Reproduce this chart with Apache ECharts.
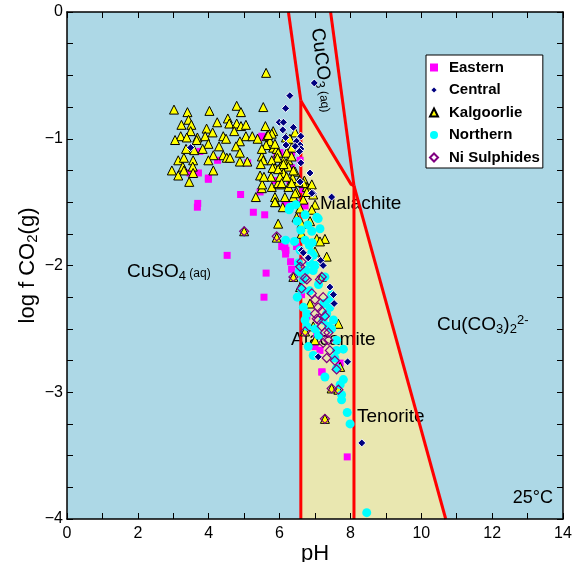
<!DOCTYPE html>
<html><head><meta charset="utf-8">
<script src="https://cdn.jsdelivr.net/npm/echarts@6/dist/echarts.min.js"></script>
<style>html,body{margin:0;padding:0;background:#fff}#c{width:579px;height:562px}</style>
</head><body><div id="c"></div>
<script>
// ---- axis ticks ----
const xTicks = [0, 2, 4, 6, 8, 10, 12, 14];
const yTicks = [0, -1, -2, -3, -4];

// ---- stability field boundaries (pH, log fCO2) ----
const cuco3Left = [[6.25, 0], [6.6, -0.7]];
const atacamiteBoundary = [[6.6, -0.7], [6.6, -4]];
const cuco3Right = [[7.44, 0], [8.1, -1.37]];
const malachiteTop = [[6.6, -0.7], [8.02, -1.36], [8.1, -1.37]];
const tenoriteBoundary = [[8.1, -1.37], [8.1, -4]];
const carbonateBoundary = [[8.1, -1.37], [10.69, -4]];
const yellowField = [[6.6, -0.7], [8.1, -1.37], [10.69, -4], [6.6, -4]];

// ---- samples ----
const eastern = [[4.25,-1.17],[3.99,-1.32],[3.69,-1.51],[3.68,-1.54],[4.90,-1.44],[5.45,-1.42],[5.26,-1.58],[5.58,-1.60],[4.52,-1.92],[5.62,-2.06],[5.56,-2.25],[6.06,-1.85],[6.18,-1.88],[6.17,-1.91],[6.31,-1.97],[6.34,-2.03],[5.10,-1.19],[3.47,-1.27],[3.71,-1.27],[6.20,-1.51],[3.75,-1.10],[5.45,-0.99],[7.20,-2.84],[7.91,-3.51],[6.62,-2.23],[6.48,-1.85],[6.15,-1.86],[6.77,-2.40],[7.00,-2.64],[7.14,-2.67],[7.19,-2.84],[7.71,-2.77],[7.05,-2.55],[5.50,-0.98],[6.01,-1.11],[6.34,-1.23],[6.15,-1.52],[6.48,-1.51],[6.72,-1.53],[6.58,-1.17],[5.92,-1.13],[6.34,-1.11],[6.67,-1.40],[5.87,-1.33],[6.29,-1.33],[3.99,-1.31]];
const central = [[6.98,-0.56],[6.29,-0.66],[6.17,-0.76],[5.99,-0.87],[6.11,-0.87],[6.09,-0.93],[6.39,-0.91],[6.60,-0.98],[6.48,-1.02],[6.17,-0.99],[6.18,-1.05],[6.58,-1.05],[6.60,-1.08],[6.60,-1.19],[6.86,-1.27],[6.58,-1.34],[7.47,-1.46],[6.95,-1.43],[6.91,-1.43],[6.44,-1.06],[6.56,-1.10],[3.49,-1.07],[6.62,-1.88],[7.16,-1.96],[7.23,-2.00],[6.81,-1.94],[6.67,-1.90],[7.42,-2.17],[7.52,-2.23],[7.54,-2.30],[7.09,-2.72],[7.92,-2.76],[8.32,-3.40]];
const kalgoorlie = [[5.62,-0.48],[3.02,-0.77],[3.40,-0.79],[4.02,-0.78],[4.79,-0.74],[4.91,-0.79],[5.54,-0.75],[3.43,-0.85],[3.23,-0.89],[3.51,-0.89],[4.24,-0.87],[4.54,-0.84],[4.58,-0.88],[4.79,-0.88],[4.91,-0.90],[5.05,-0.89],[5.60,-0.90],[3.94,-0.92],[4.72,-0.94],[3.49,-0.94],[4.11,-0.95],[3.21,-0.98],[3.38,-0.99],[3.05,-1.01],[3.68,-0.99],[3.90,-0.98],[4.41,-0.98],[4.49,-1.00],[5.05,-0.98],[5.23,-0.98],[5.38,-1.00],[4.88,-1.02],[5.64,-0.98],[3.66,-1.01],[3.99,-1.04],[4.29,-1.06],[4.77,-1.06],[3.36,-1.08],[3.59,-1.09],[3.83,-1.08],[4.88,-1.11],[4.13,-1.13],[4.41,-1.13],[4.51,-1.15],[4.60,-1.15],[3.14,-1.17],[3.30,-1.15],[3.56,-1.17],[3.99,-1.17],[4.88,-1.18],[5.09,-1.18],[5.50,-1.14],[5.54,-1.17],[5.47,-1.20],[3.27,-1.22],[3.55,-1.22],[2.96,-1.25],[3.30,-1.25],[4.13,-1.25],[3.14,-1.29],[3.56,-1.27],[5.45,-1.29],[5.73,-1.02],[5.82,-1.07],[5.92,-1.08],[5.96,-1.11],[6.18,-0.99],[6.44,-0.95],[6.34,-1.07],[6.25,-1.17],[6.11,-1.17],[5.94,-1.15],[5.78,-1.17],[6.03,-1.22],[5.87,-1.23],[6.25,-1.22],[6.44,-1.26],[6.11,-1.27],[5.76,-1.30],[6.37,-1.31],[6.56,-1.33],[6.70,-1.33],[6.77,-1.38],[6.91,-1.36],[6.95,-1.44],[6.48,-1.42],[6.25,-1.38],[6.01,-1.36],[5.78,-1.38],[5.50,-1.39],[5.33,-1.46],[5.87,-1.46],[6.15,-1.46],[6.39,-1.46],[5.82,-0.94],[3.45,-1.34],[5.51,-1.36],[5.89,-1.50],[6.09,-1.54],[5.96,-1.67],[5.00,-1.73],[5.92,-1.78],[6.39,-2.09],[5.87,-1.50],[5.96,-1.35],[6.67,-1.35],[6.44,-1.43],[6.67,-1.48],[7.00,-1.52],[6.48,-1.62],[6.62,-1.67],[6.86,-1.65],[6.62,-1.75],[7.05,-1.79],[7.28,-1.79],[7.14,-1.81],[7.00,-1.89],[7.14,-1.96],[7.33,-1.93],[6.58,-2.17],[7.19,-2.09],[6.86,-2.30],[7.66,-2.46],[6.95,-2.48],[7.71,-2.80],[7.47,-2.97],[7.66,-2.98],[7.28,-3.21],[6.72,-2.52],[7.00,-2.59],[5.78,-0.96],[5.68,-0.97],[5.62,-1.05],[5.50,-1.08],[5.87,-1.04],[6.29,-1.00],[6.20,-1.11],[6.34,-1.14],[5.80,-1.23],[5.96,-1.24],[6.11,-1.20],[6.39,-1.25],[6.01,-1.30],[6.20,-1.30],[6.53,-1.34],[6.06,-1.35],[6.34,-1.35],[6.77,-1.42],[6.58,-1.55],[6.91,-1.56],[5.56,-1.30]];
const northern = [[6.29,-1.54],[6.46,-1.52],[6.17,-1.80],[6.42,-1.81],[6.53,-1.98],[6.27,-1.56],[6.72,-1.60],[7.05,-1.62],[7.09,-1.63],[6.91,-1.73],[7.14,-1.71],[6.84,-1.84],[6.95,-1.92],[6.86,-1.98],[6.75,-2.04],[6.95,-2.04],[7.28,-2.09],[7.47,-2.23],[7.42,-2.27],[6.67,-2.33],[6.77,-2.38],[6.72,-2.43],[7.33,-2.38],[7.23,-2.43],[7.38,-2.48],[6.77,-2.48],[6.62,-2.19],[6.67,-2.11],[7.42,-2.33],[7.52,-2.43],[7.47,-2.50],[7.61,-2.67],[7.80,-2.66],[7.56,-2.73],[7.61,-2.81],[7.28,-2.88],[7.80,-2.90],[7.71,-2.94],[7.75,-3.02],[7.75,-3.06],[7.91,-3.16],[7.99,-3.25],[6.95,-2.71],[6.81,-2.64],[7.61,-2.59],[8.46,-3.95],[6.72,-1.80],[6.58,-1.88],[6.92,-1.82],[6.50,-1.65],[6.60,-1.72],[6.80,-1.68],[6.90,-1.90],[7.00,-2.00],[7.10,-2.15],[6.85,-2.20],[7.00,-2.50],[7.10,-2.55],[6.50,-2.25],[6.55,-2.05],[7.25,-2.30]];
const niSulphides = [[6.77,-2.11],[6.62,-2.18],[6.91,-2.22],[7.00,-2.27],[7.09,-2.33],[7.19,-2.36],[7.28,-2.40],[7.05,-2.42],[7.19,-2.48],[7.38,-2.53],[6.72,-2.10],[7.14,-2.11],[7.23,-2.25],[6.58,-2.01],[6.62,-1.97],[5.92,-1.77],[6.39,-2.09],[7.19,-2.09],[7.00,-2.38],[7.09,-2.43],[7.28,-2.53],[7.38,-2.59],[7.23,-2.61],[7.42,-2.67],[7.56,-2.75],[7.61,-2.82],[7.47,-2.97],[7.66,-2.98],[6.72,-2.52],[7.28,-3.21],[7.33,-2.73],[5.00,-1.73]];

const FONT = 'Liberation Sans, Arial, sans-serif';
const chart = echarts.init(document.getElementById('c'), null, {renderer: 'canvas'});

function lineSeries(data) {
  return {type: 'line', data: data, symbol: 'none', z: 3, silent: true,
    lineStyle: {color: '#ff0000', width: 3}, animation: false, legendHoverLink: false};
}
function minus(v) { return String(v).replace('-', '\u2212'); }

const axisCommon = {
  axisLine: {show: true, onZero: false, lineStyle: {color: '#000', width: 1.5}},
  axisTick: {show: true, inside: true, length: 6, lineStyle: {color: '#000', width: 1}},
  minorTick: {show: true, length: 6, lineStyle: {color: '#000', width: 1}},
  splitLine: {show: false},
  nameMoveOverlap: false,
  z: 10
};
const SUB = {fontFamily: FONT, fontSize: 13, color: '#000', verticalAlign: 'bottom', padding: [9, 0, 0, 0]};
const SUP = {fontFamily: FONT, fontSize: 13, color: '#000', verticalAlign: 'top', padding: [0, 0, 9, 0]};
const AQ = {fontFamily: FONT, fontSize: 12, color: '#000', padding: [4, 0, 0, 0]};

const option = {
  animation: false,
  backgroundColor: '#ffffff',
  grid: {left: 67, top: 12, width: 496, height: 507, show: true, backgroundColor: '#add8e6', borderWidth: 0,
    containLabel: false, outerBoundsMode: 'none'},
  legend: {
    orient: 'vertical', left: 426, top: 55, z: 20,
    backgroundColor: '#ffffff', borderColor: '#000', borderWidth: 1,
    padding: [5, 3, 3, 3], itemGap: 7.5, itemWidth: 8, itemHeight: 8,
    textStyle: {fontFamily: FONT, fontWeight: 'bold', fontSize: 15, color: '#000', padding: [0, 0, 0, 6]},
    data: ['Eastern', 'Central', 'Kalgoorlie', 'Northern', 'Ni Sulphides']
  },
  xAxis: [
    Object.assign({}, axisCommon, {
      type: 'value', min: 0, max: 14, interval: 2, position: 'bottom',
      minorTick: Object.assign({}, axisCommon.minorTick, {splitNumber: 2}),
      axisLabel: {fontFamily: FONT, fontSize: 16, color: '#000', margin: 7,
        formatter: v => xTicks.includes(v) ? String(v) : ''},
      name: 'pH', nameLocation: 'middle', nameGap: 24,
      nameTextStyle: {fontFamily: FONT, fontSize: 22, color: '#000'}
    }),
    Object.assign({}, axisCommon, {
      type: 'value', min: 0, max: 14, interval: 2, position: 'top',
      minorTick: Object.assign({}, axisCommon.minorTick, {splitNumber: 2}),
      axisLabel: {show: false}
    })
  ],
  yAxis: [
    Object.assign({}, axisCommon, {
      type: 'value', min: -4, max: 0, interval: 1, position: 'left',
      minorTick: Object.assign({}, axisCommon.minorTick, {splitNumber: 4}),
      axisLabel: {fontFamily: FONT, fontSize: 16, color: '#000', margin: 4,
        formatter: v => yTicks.includes(v) ? minus(v) : ''},
      name: 'log f CO{sub|2}(g)', nameLocation: 'middle', nameGap: 27,
      nameTextStyle: {fontFamily: FONT, fontSize: 22, color: '#000',
        rich: {sub: {fontFamily: FONT, fontSize: 15, color: '#000', verticalAlign: 'bottom', padding: [10, 0, 0, 0]}}}
    }),
    Object.assign({}, axisCommon, {
      type: 'value', min: -4, max: 0, interval: 1, position: 'right',
      minorTick: Object.assign({}, axisCommon.minorTick, {splitNumber: 4}),
      axisLabel: {show: false}
    })
  ],
  graphic: [
    {type: 'text', x: 317, y: 28, rotation: -1.449, z: 2, silent: true,
      style: {text: 'CuCO{sub|3}{aq| (aq)}', fill: '#000', font: '19px ' + FONT, verticalAlign: 'middle', align: 'left',
        rich: {sub: SUB, aq: AQ}}},
    {type: 'text', x: 320, y: 204, z: 2, silent: true,
      style: {text: 'Malachite', fill: '#000', font: '19px ' + FONT, verticalAlign: 'middle'}},
    {type: 'text', x: 127, y: 272, z: 2, silent: true,
      style: {text: 'CuSO{sub|4}{aq| (aq)}', fill: '#000', font: '19px ' + FONT, verticalAlign: 'middle',
        rich: {sub: SUB, aq: AQ}}},
    {type: 'text', x: 437, y: 325, z: 2, silent: true,
      style: {text: 'Cu(CO{sub|3}){sub|2}{sup|2-}', fill: '#000', font: '19px ' + FONT, verticalAlign: 'middle',
        rich: {sub: SUB, sup: SUP}}},
    {type: 'text', x: 291, y: 340, z: 2, silent: true,
      style: {text: 'Atacamite', fill: '#000', font: '19px ' + FONT, verticalAlign: 'middle'}},
    {type: 'text', x: 357, y: 417, z: 2, silent: true,
      style: {text: 'Tenorite', fill: '#000', font: '19px ' + FONT, verticalAlign: 'middle'}},
    {type: 'text', x: 553, y: 498, z: 2, silent: true,
      style: {text: '25\u00b0C', fill: '#000', font: '18px ' + FONT, verticalAlign: 'middle', align: 'right'}}
  ],
  series: [
    {type: 'custom', z: 1, silent: true, data: [0],
      renderItem: function (params, api) {
        const pts = yellowField.map(p => api.coord(p));
        return {type: 'polygon', shape: {points: pts}, style: {fill: '#e9e7b0', stroke: 'none'}};
      }},
    lineSeries(cuco3Left), lineSeries(atacamiteBoundary), lineSeries(cuco3Right),
    lineSeries(malachiteTop), lineSeries(tenoriteBoundary), lineSeries(carbonateBoundary),
    {name: 'Eastern', type: 'scatter', z: 4, data: eastern, symbol: 'rect', symbolSize: 7,
      itemStyle: {color: '#ff00ff', opacity: 1}},
    {name: 'Kalgoorlie', type: 'scatter', z: 5, data: kalgoorlie, symbol: 'triangle', symbolSize: 9,
      itemStyle: {color: '#ffff00', borderColor: '#000', borderWidth: 1, opacity: 1}},
    {name: 'Northern', type: 'scatter', z: 6, data: northern, symbol: 'circle', symbolSize: 9,
      itemStyle: {color: '#00ffff', opacity: 1}},
    {name: 'Central', type: 'scatter', z: 7, data: central, symbol: 'diamond', symbolSize: 8,
      itemStyle: {color: '#000080', borderColor: '#ffffff', borderWidth: 1, opacity: 1}},
    {name: 'Ni Sulphides', type: 'scatter', z: 8, data: niSulphides, symbol: 'diamond', symbolSize: 9,
      itemStyle: {color: 'rgba(0,0,0,0)', borderColor: '#800080', borderWidth: 1.2, opacity: 1}}
  ]
};
chart.setOption(option);
</script>
</body></html>
